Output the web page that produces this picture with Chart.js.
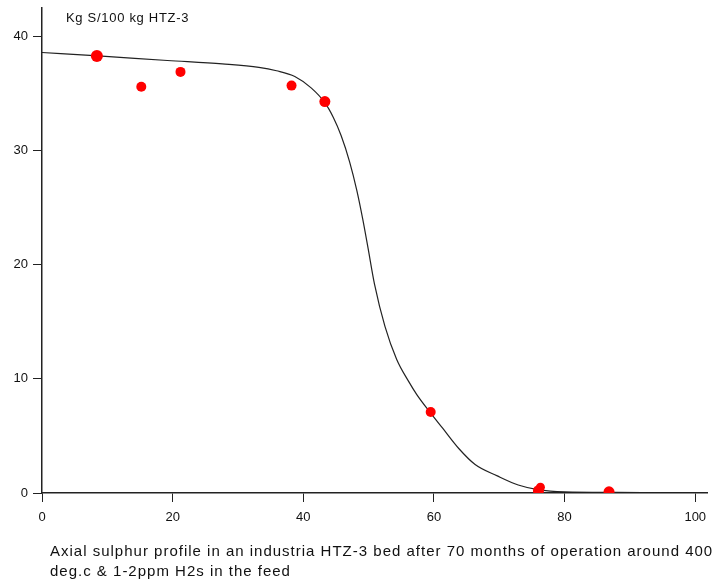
<!DOCTYPE html>
<html>
<head>
<meta charset="utf-8">
<script src="https://cdn.jsdelivr.net/npm/chart.js@4/dist/chart.umd.min.js"></script>
<style>
  html, body { margin: 0; padding: 0; background: #fff; }
  #wrap { position: relative; width: 713px; height: 580px; }
  #caption {
    position: absolute; left: 50px; top: 541px;
    font-family: "Liberation Sans", Arial, sans-serif;
    font-size: 15px; letter-spacing: 1px; line-height: 20px; color: #111; white-space: nowrap;
  }
</style>
</head>
<body>
<div id="wrap">
  <canvas id="chart" width="713" height="580"></canvas>
  <div id="caption">Axial sulphur profile in an industria HTZ-3 bed after 70 months of operation around 400<br>deg.c &amp; 1-2ppm H2s in the feed</div>
</div>
<script>
// Mesures (points rouges)
const sampleX = [8.4, 15.2, 21.2, 38.2, 43.3, 59.5, 76.0, 76.3, 86.8];
const sampleY = [38.3, 35.6, 36.9, 35.7, 34.3, 7.1, 0.2, 0.5, 0.1];
const sampleRadius = [6, 5, 5, 5, 5.5, 5, 5.5, 4.5, 5.5];

// Courbe ajustée
const curveX = [0, 8.6, 19.2, 27.6, 33.2, 35.9, 38.7, 41.2, 43.3, 44.6, 45.8, 47.1, 48.2, 49.1, 49.9,
                50.9, 52.5, 54.3, 56.1, 57.4, 59.5, 61.3, 63.8, 66.3, 69.7, 72.9, 75.9, 80.0, 88.0, 100];
const curveY = [38.6, 38.3, 37.9, 37.6, 37.3, 37.0, 36.5, 35.5, 34.2, 32.9, 31.3, 29.0, 26.5, 24.0, 21.5,
                18.3, 14.6, 11.7, 9.8, 8.6, 7.0, 5.7, 3.9, 2.5, 1.5, 0.7, 0.3, 0.1, 0.05, 0];

// Graduations
const xTicks = [0, 20, 40, 60, 80, 100];
const yTicks = [0, 10, 20, 30, 40];
const yAxisLabel = 'Kg S/100 kg HTZ-3';

const fontFamily = '"Liberation Sans", Arial, sans-serif';

const axisLabelPlugin = {
    id: 'axisLabel',
    afterDraw(chart) {
        const ctx = chart.ctx;
        const area = chart.chartArea;
        ctx.save();
        ctx.font = '13px ' + fontFamily;
        ctx.letterSpacing = '0.7px';
        ctx.fillStyle = '#111';
        ctx.textBaseline = 'middle';
        ctx.fillText(yAxisLabel, area.left + 24, area.top + 10);
        ctx.restore();
    }
};

const ctx = document.getElementById('chart').getContext('2d');
new Chart(ctx, {
    type: 'scatter',
    data: {
        datasets: [
            {
                data: sampleX.map((x, i) => ({ x: x, y: sampleY[i] })),
                backgroundColor: '#ff0000',
                borderColor: '#ff0000',
                borderWidth: 0,
                pointRadius: sampleRadius,
                order: 0
            },
            {
                data: curveX.map((x, i) => ({ x: x, y: curveY[i] })),
                showLine: true,
                borderColor: '#222',
                borderWidth: 1.2,
                pointRadius: 0,
                cubicInterpolationMode: 'monotone',
                order: 1
            }
        ]
    },
    options: {
        responsive: false,
        animation: false,
        layout: { padding: { top: 8, right: 3, bottom: 47, left: 0 } },
        plugins: {
            legend: { display: false },
            tooltip: { enabled: false }
        },
        scales: {
            x: {
                type: 'linear',
                min: 0,
                max: 101.8,
                afterBuildTicks: scale => { scale.ticks = xTicks.map(v => ({ value: v })); },
                afterFit: scale => { scale.height = 40; scale.paddingLeft = 0; scale.paddingRight = 0; },
                grid: { drawOnChartArea: false, drawTicks: true, tickLength: 9, color: '#222' },
                border: { color: '#222', width: 1.5 },
                ticks: { color: '#111', font: { family: fontFamily, size: 13 }, padding: 8, maxRotation: 0 }
            },
            y: {
                type: 'linear',
                min: 0,
                max: 42.5,
                afterBuildTicks: scale => { scale.ticks = yTicks.map(v => ({ value: v })); },
                afterFit: scale => { scale.width = 42; scale.paddingTop = 0; scale.paddingBottom = 0; },
                grid: { drawOnChartArea: false, drawTicks: true, tickLength: 9, color: '#222' },
                border: { color: '#222', width: 1.5 },
                ticks: { color: '#111', font: { family: fontFamily, size: 13 }, padding: 5 }
            }
        }
    },
    plugins: [axisLabelPlugin]
});
</script>
</body>
</html>
